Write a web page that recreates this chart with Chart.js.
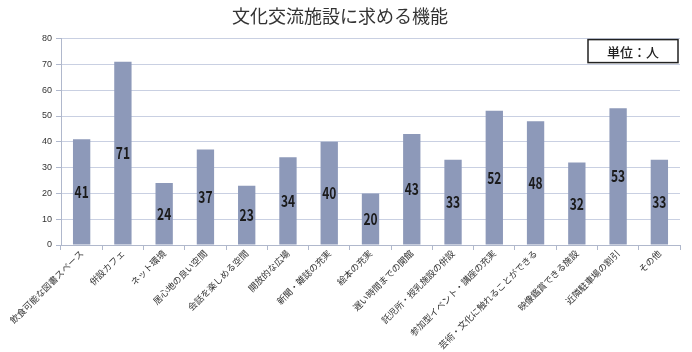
<!DOCTYPE html>
<html>
<head>
<meta charset="utf-8">
<script src="https://cdn.jsdelivr.net/npm/chart.js@4"></script>
<style>
  html, body { margin: 0; padding: 0; background: #fff; }
  #wrap { width: 692px; height: 352px; }
</style>
</head>
<body>
<div id="wrap"><canvas id="myChart" width="692" height="352"></canvas></div>
<script>
let categories = [
    "飲食可能な図書スペース",
    "併設カフェ",
    "ネット環境",
    "居心地の良い空間",
    "会話を楽しめる空間",
    "開放的な広場",
    "新聞・雑誌の充実",
    "絵本の充実",
    "遅い時間までの開館",
    "託児所・授乳施設の併設",
    "参加型イベント・講座の充実",
    "芸術・文化に触れることができる",
    "映像鑑賞できる施設",
    "近隣駐車場の割引",
    "その他"
];
let counts = [41, 71, 24, 37, 23, 34, 40, 20, 43, 33, 52, 48, 32, 53, 33];
let yTicks = [0, 10, 20, 30, 40, 50, 60, 70, 80];
let chartTitle = "文化交流施設に求める機能";
let unitText = "単位：人";

const jp = "'Noto Sans CJK JP', 'Noto Sans', sans-serif";

// value labels in the middle of each bar (narrow digits like the original)
const barLabels = {
    id: 'barLabels',
    afterDatasetsDraw(chart) {
        const ctx = chart.ctx;
        const meta = chart.getDatasetMeta(0);
        ctx.save();
        ctx.font = "bold 16px " + jp;
        ctx.fillStyle = '#1a1a1a';
        ctx.textAlign = 'center';
        ctx.textBaseline = 'middle';
        meta.data.forEach((bar, i) => {
            const yMid = (bar.y + bar.base) / 2;
            ctx.save();
            ctx.translate(bar.x, yMid);
            ctx.scale(0.75, 1);
            ctx.fillText(String(counts[i]), 0, 0);
            ctx.restore();
        });
        ctx.restore();
    }
};

// unit box at top right of plot
const unitBox = {
    id: 'unitBox',
    afterDraw(chart) {
        const ctx = chart.ctx;
        const area = chart.chartArea;
        const w = 90, h = 23;
        const x = area.right - w - 2;
        const y = area.top + 1;
        ctx.save();
        ctx.fillStyle = '#fff';
        ctx.fillRect(x, y, w, h);
        ctx.strokeStyle = '#222';
        ctx.lineWidth = 1.5;
        ctx.strokeRect(x, y, w, h);
        ctx.font = "500 13px " + jp;
        ctx.fillStyle = '#222';
        ctx.textAlign = 'center';
        ctx.textBaseline = 'middle';
        ctx.fillText(unitText, x + w / 2, y + h / 2 + 1);
        ctx.restore();
    }
};

const ctx = document.getElementById('myChart').getContext('2d');
const myChart = new Chart(ctx, {
    type: 'bar',
    data: {
        labels: categories,
        datasets: [{
            label: '人数',
            data: counts,
            backgroundColor: '#8d99b9',
            borderWidth: 0,
            barPercentage: 0.42,
            categoryPercentage: 1.0
        }]
    },
    options: {
        responsive: false,
        animation: false,
        layout: { padding: { left: 0, right: 12, top: 0, bottom: 0 } },
        plugins: {
            legend: { display: false },
            tooltip: { enabled: false },
            title: {
                display: true,
                text: chartTitle,
                color: '#333',
                font: { family: jp, size: 18, weight: 'normal' },
                padding: { top: 5, bottom: 12 }
            }
        },
        scales: {
            y: {
                min: 0,
                max: 80,
                afterBuildTicks: (scale) => {
                    scale.ticks = yTicks.map(v => ({ value: v }));
                },
                afterFit: (scale) => { scale.width = 61; },
                ticks: {
                    color: '#333',
                    font: { family: "'Liberation Sans', sans-serif", size: 9 },
                    padding: 4
                },
                grid: {
                    color: '#c9d0e2',
                    lineWidth: 1,
                    tickLength: 5,
                    tickColor: '#b0b8cc'
                },
                border: { color: '#b0b8cc' }
            },
            x: {
                afterFit: (scale) => { scale.height = 107; },
                ticks: {
                    color: '#333',
                    font: { family: jp, size: 9 },
                    minRotation: 45,
                    maxRotation: 45,
                    autoSkip: false,
                    padding: -2
                },
                grid: {
                    offset: true,
                    drawOnChartArea: false,
                    tickLength: 5,
                    tickColor: '#b0b8cc'
                },
                border: { color: '#b0b8cc' }
            }
        }
    },
    plugins: [barLabels, unitBox]
});
</script>
</body>
</html>
